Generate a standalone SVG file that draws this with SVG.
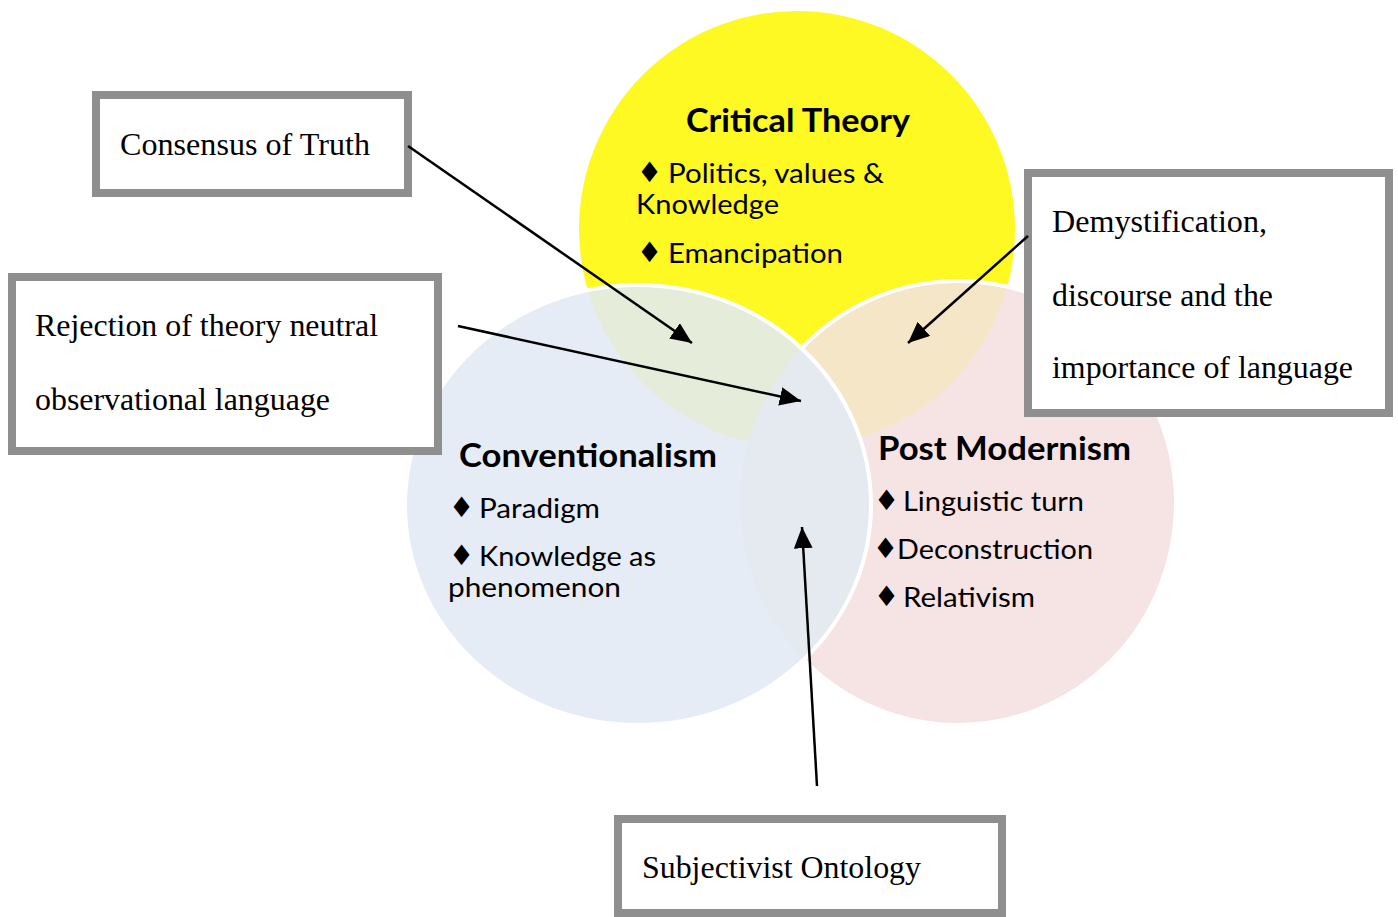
<svg xmlns="http://www.w3.org/2000/svg" width="1398" height="917" viewBox="0 0 1398 917">
<style>
.title{font-family:Lato,"Open Sans","Liberation Sans",sans-serif;font-weight:bold;font-size:33px;fill:#000}
.item{font-family:Lato,"Open Sans","Liberation Sans",sans-serif;font-size:27px;fill:#000}
.dia{font-family:"DejaVu Sans",sans-serif;font-size:28px;fill:#000}
.box{fill:#fff;stroke:#8f8f8f;stroke-width:8}
.lbl{font-family:"Liberation Serif","Times New Roman",serif;font-size:32px;fill:#000}
.conn{stroke:#000;stroke-width:2.5;fill:none;marker-end:url(#ah)}
</style>
<defs>
<marker id="ah" viewBox="0 0 10 10" refX="10" refY="5" markerWidth="8.5" markerHeight="7.5" markerUnits="strokeWidth" orient="auto" preserveAspectRatio="none">
<path d="M0,0 L10,5 L0,10 z" fill="#000"/>
</marker>
<clipPath id="cy"><circle cx="797" cy="229" r="218"/></clipPath>
<clipPath id="cp"><ellipse cx="958" cy="503" rx="218" ry="222"/></clipPath>
</defs>
<rect width="1398" height="917" fill="#fff"/>
<g id="critical-theory">
<circle cx="797" cy="229" r="218" fill="#fef922"/>
</g>
<g id="post-modernism">
<ellipse cx="958" cy="503" rx="218" ry="222" fill="#f5e4e3"/>
<ellipse cx="958" cy="503" rx="218" ry="222" fill="#f6e6c8" clip-path="url(#cy)"/>
<ellipse cx="958" cy="503" rx="218" ry="222" fill="none" stroke="#fff" stroke-width="4"/>
</g>
<g id="conventionalism">
<ellipse cx="638" cy="505" rx="233" ry="220" fill="#e6ecf6"/>
<ellipse cx="638" cy="505" rx="233" ry="220" fill="#e5ecda" clip-path="url(#cy)"/>
<ellipse cx="638" cy="505" rx="233" ry="220" fill="#e5e9f0" clip-path="url(#cp)"/>
<ellipse cx="638" cy="505" rx="233" ry="220" fill="none" stroke="#fff" stroke-width="4"/>
</g>
<g id="critical-theory-text">
<text class="title" x="686" y="132" textLength="224" lengthAdjust="spacingAndGlyphs">Critical Theory</text>
<text class="dia" x="637" y="182">♦</text>
<text class="item" x="668" y="183" textLength="216" lengthAdjust="spacingAndGlyphs">Politics, values &amp;</text>
<text class="item" x="636" y="214" textLength="143" lengthAdjust="spacingAndGlyphs">Knowledge</text>
<text class="dia" x="637" y="262">♦</text>
<text class="item" x="668" y="263" textLength="175" lengthAdjust="spacingAndGlyphs">Emancipation</text>
</g>
<g id="conventionalism-text">
<text class="title" x="459" y="467" textLength="258" lengthAdjust="spacingAndGlyphs">Conventionalism</text>
<text class="dia" x="449" y="517">♦</text>
<text class="item" x="479" y="518" textLength="121" lengthAdjust="spacingAndGlyphs">Paradigm</text>
<text class="dia" x="449" y="565">♦</text>
<text class="item" x="479" y="566" textLength="177" lengthAdjust="spacingAndGlyphs">Knowledge as</text>
<text class="item" x="448" y="597" textLength="173" lengthAdjust="spacingAndGlyphs">phenomenon</text>
</g>
<g id="post-modernism-text">
<text class="title" x="878" y="460" textLength="253" lengthAdjust="spacingAndGlyphs">Post Modernism</text>
<text class="dia" x="874" y="510">♦</text>
<text class="item" x="903" y="511" textLength="181" lengthAdjust="spacingAndGlyphs">Linguistic turn</text>
<text class="dia" x="873" y="558">♦</text>
<text class="item" x="897" y="559" textLength="196" lengthAdjust="spacingAndGlyphs">Deconstruction</text>
<text class="dia" x="874" y="606">♦</text>
<text class="item" x="903" y="607" textLength="132" lengthAdjust="spacingAndGlyphs">Relativism</text>
</g>
<g id="consensus-of-truth">
<rect class="box" x="96" y="95" width="312" height="98"/>
<text class="lbl" x="120" y="155" textLength="250" lengthAdjust="spacingAndGlyphs">Consensus of Truth</text>
</g>
<g id="rejection">
<rect class="box" x="12" y="277" width="426" height="174"/>
<text class="lbl" x="35" y="336" textLength="343" lengthAdjust="spacingAndGlyphs">Rejection of theory neutral</text>
<text class="lbl" x="35" y="410" textLength="295" lengthAdjust="spacingAndGlyphs">observational language</text>
</g>
<g id="demystification">
<rect class="box" x="1028" y="173" width="361" height="240"/>
<text class="lbl" x="1052" y="232" textLength="215" lengthAdjust="spacingAndGlyphs">Demystification,</text>
<text class="lbl" x="1052" y="306" textLength="221" lengthAdjust="spacingAndGlyphs">discourse and the</text>
<text class="lbl" x="1052" y="378" textLength="301" lengthAdjust="spacingAndGlyphs">importance of language</text>
</g>
<g id="subjectivist-ontology">
<rect class="box" x="618" y="819" width="384" height="94"/>
<text class="lbl" x="642" y="878" textLength="279" lengthAdjust="spacingAndGlyphs">Subjectivist Ontology</text>
</g>
<g id="connectors">
<line class="conn" x1="408" y1="146" x2="692" y2="343"/>
<line class="conn" x1="458" y1="326" x2="801" y2="401"/>
<line class="conn" x1="1028" y1="236" x2="908" y2="343"/>
<line class="conn" x1="817" y1="786" x2="802" y2="527"/>
</g>
</svg>
